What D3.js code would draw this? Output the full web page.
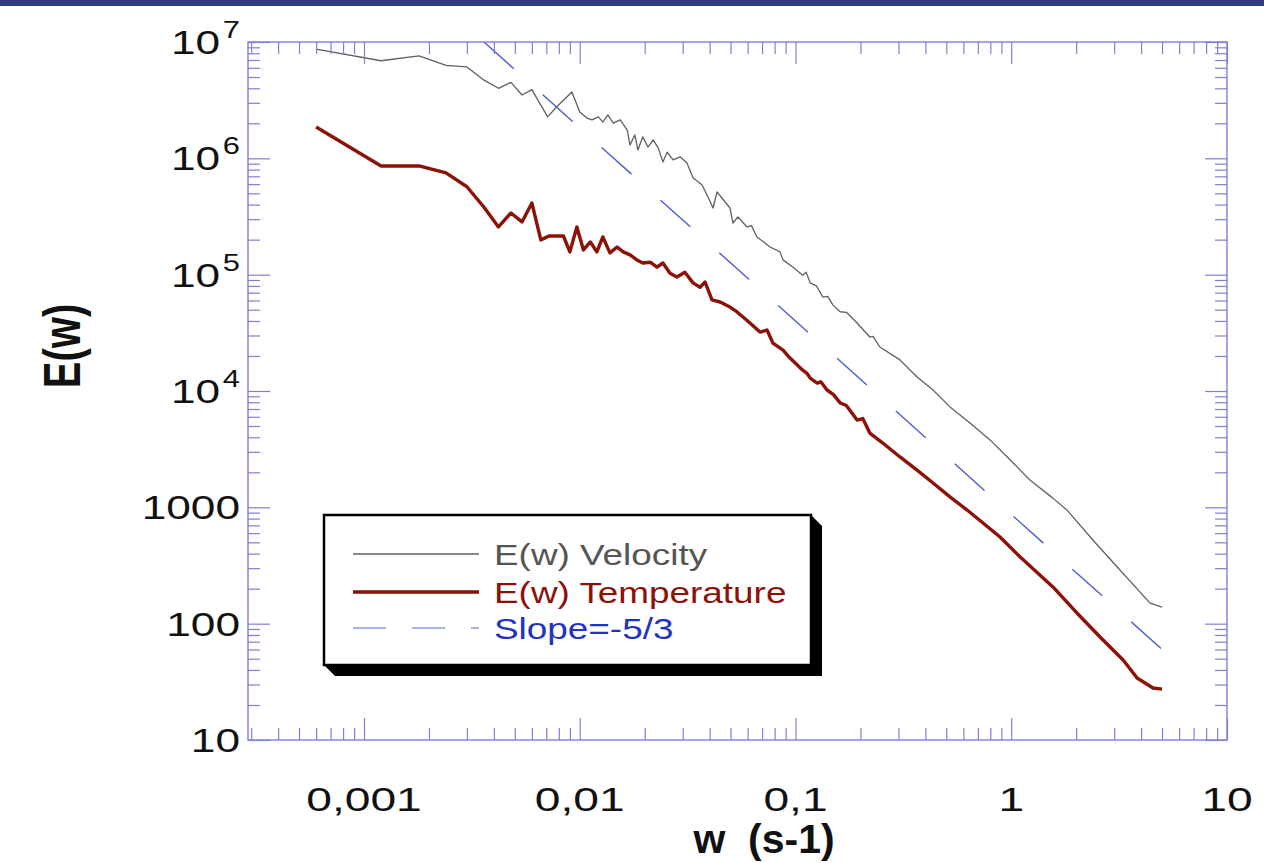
<!DOCTYPE html>
<html>
<head>
<meta charset="utf-8">
<script src="https://cdn.jsdelivr.net/npm/d3@7"></script>
<style>
  body { margin: 0; background: #fff; }
  svg { display: block; font-family: "Liberation Sans", Arial, Helvetica, sans-serif; }
</style>
</head>
<body>
<div id="chart"></div>
<script>
// spectra: frequency w (s-1) and energy E(w)
const velW = [0.0006, 0.0012, 0.0018, 0.0024, 0.0030, 0.0036, 0.0042, 0.0048, 0.0054, 0.0060,
  0.0071, 0.0078, 0.0092, 0.0100, 0.0108, 0.0114, 0.0122, 0.0128, 0.0135, 0.0143,
  0.0154, 0.0166, 0.0171, 0.0180, 0.0186, 0.0196, 0.0207, 0.0219, 0.0231, 0.0243,
  0.0254, 0.0271, 0.0292, 0.0314, 0.0335, 0.0369, 0.0393, 0.0415, 0.0433, 0.0456,
  0.0497, 0.0513, 0.0541, 0.0596, 0.0625, 0.0663, 0.0700, 0.0762, 0.0848, 0.0875,
  0.0974, 0.108, 0.112, 0.117, 0.125, 0.134, 0.141, 0.149, 0.161, 0.172,
  0.193, 0.221, 0.229, 0.246, 0.305, 0.366, 0.434, 0.520, 0.644, 0.797,
  0.99, 1.22, 1.56, 1.81, 2.39, 3.19, 4.40, 5.0];
const velE = [8.7e6, 6.9e6, 7.6e6, 6.3e6, 6.1e6, 4.7e6, 4.0e6, 4.5e6, 3.5e6, 3.9e6,
  2.27e6, 2.76e6, 3.72e6, 2.50e6, 2.22e6, 2.14e6, 2.27e6, 2.05e6, 2.36e6, 2.01e6,
  2.14e6, 1.75e6, 1.30e6, 1.59e6, 1.18e6, 1.53e6, 1.25e6, 1.44e6, 1.23e6, 9.3e5,
  1.13e6, 9.7e5, 1.03e6, 9.1e5, 6.8e5, 5.9e5, 4.65e5, 3.74e5, 5.14e5, 4.56e5,
  3.74e5, 2.78e5, 3.13e5, 2.57e5, 2.64e5, 2.11e5, 1.96e5, 1.73e5, 1.57e5, 1.34e5,
  1.16e5, 9.9e4, 1.05e5, 8.5e4, 8.0e4, 6.4e4, 6.5e4, 5.5e4, 4.8e4, 4.75e4,
  3.84e4, 2.91e4, 2.95e4, 2.39e4, 1.85e4, 1.32e4, 1.02e4, 7.3e3, 5.3e3, 3.8e3,
  2.55e3, 1.72e3, 1.20e3, 950, 524, 289, 150, 139];

const tempW = [0.0006, 0.0012, 0.0018, 0.0024, 0.0030, 0.0036, 0.0042, 0.0048, 0.0054, 0.0060,
  0.0066, 0.0072, 0.0078, 0.0084, 0.0090, 0.0097, 0.0104, 0.0112, 0.0120, 0.0128,
  0.0138, 0.0149, 0.0159, 0.0171, 0.0184, 0.0196, 0.0212, 0.0228, 0.0243, 0.0262,
  0.0282, 0.0307, 0.0335, 0.0361, 0.0381, 0.0410, 0.0447, 0.0497, 0.0536, 0.0571,
  0.0615, 0.0685, 0.0738, 0.0786, 0.0875, 0.0943, 0.102, 0.108, 0.113, 0.117,
  0.126, 0.131, 0.140, 0.150, 0.161, 0.172, 0.193, 0.205, 0.221, 0.254,
  0.305, 0.366, 0.434, 0.520, 0.624, 0.740, 0.887, 1.10, 1.18, 1.56,
  2.02, 2.58, 3.30, 3.83, 4.54, 5.0];
const tempE = [1.86e6, 8.6e5, 8.6e5, 7.5e5, 5.7e5, 3.8e5, 2.57e5, 3.39e5, 2.84e5, 4.13e5,
  1.99e5, 2.15e5, 2.15e5, 2.15e5, 1.57e5, 2.57e5, 1.63e5, 1.91e5, 1.57e5, 2.11e5,
  1.54e5, 1.73e5, 1.57e5, 1.48e5, 1.34e5, 1.26e5, 1.28e5, 1.16e5, 1.26e5, 1.03e5,
  9.55e4, 1.05e5, 8.5e4, 7.8e4, 8.65e4, 6.06e4, 5.82e4, 5.27e4, 4.78e4, 4.33e4,
  3.84e4, 3.21e4, 3.34e4, 2.58e4, 2.25e4, 1.92e4, 1.67e4, 1.51e4, 1.42e4, 1.29e4,
  1.17e4, 1.2e4, 1.02e4, 9.3e3, 7.9e3, 7.5e3, 5.63e3, 5.8e3, 4.35e3, 3.57e3,
  2.71e3, 2.09e3, 1.62e3, 1.23e3, 948, 733, 556, 374, 332, 207,
  123, 76.8, 48.7, 34.1, 28.0, 27.4];

// reference line of slope -5/3 (its two end points)
const slopeW = [0.0036, 5.0];
const slopeE = [1.0e7, 60];

const xTickValues = [0.001, 0.01, 0.1, 1, 10];
const xTickLabels = ['0,001', '0,01', '0,1', '1', '10'];
const yTickValues = [1e7, 1e6, 1e5, 1e4, 1000, 100, 10];
const yTickLabels = [['10', '7'], ['10', '6'], ['10', '5'], ['10', '4'], ['1000', ''], ['100', ''], ['10', '']];
const legendLabels = ['E(w) Velocity', 'E(w) Temperature', 'Slope=-5/3'];

const width = 1264;
const height = 863;
const plot = { left: 248, right: 1227, top: 42, bottom: 740 };

const axisColor = '#7f7fd4';
const velColor = '#606060';
const tempColor = '#8c1208';
const slopeColor = '#4d5cd6';

const svg = d3.select('#chart')
  .append('svg')
  .attr('width', width)
  .attr('height', height);

svg.append('rect')
  .attr('x', 0).attr('y', 0)
  .attr('width', width).attr('height', 6)
  .attr('fill', '#323a7e');

const xScale = d3.scaleLog().domain([0.00029, 10]).range([plot.left, plot.right]);
const yScale = d3.scaleLog().domain([10, 1e7]).range([plot.bottom, plot.top]);

// text in the original is drawn wide, so stretch it horizontally
function stretchedText(x, y, sx, rotate) {
  return svg.append('g')
    .attr('transform', `translate(${x},${y}) scale(${sx},1)` + (rotate ? ` rotate(${rotate})` : ''))
    .append('text');
}

function drawTicks() {
  const isMajor = (v) => Math.abs(Math.log10(v) - Math.round(Math.log10(v))) < 1e-6;
  const xMinor = xScale.ticks().filter((v) => !isMajor(v));
  const xMajor = xScale.ticks().filter(isMajor);
  const yMinor = yScale.ticks().filter((v) => !isMajor(v));
  const yMajor = yScale.ticks().filter(isMajor);

  const sets = [
    [d3.axisBottom(xScale), `translate(0,${plot.bottom})`, xMinor, xMajor],
    [d3.axisTop(xScale), `translate(0,${plot.top})`, xMinor, xMajor],
    [d3.axisLeft(yScale), `translate(${plot.left},0)`, yMinor, yMajor],
    [d3.axisRight(yScale), `translate(${plot.right},0)`, yMinor, yMajor],
  ];

  sets.forEach(([axis, tr, minor, major]) => {
    [[minor, -12], [major, -22]].forEach(([vals, size]) => {
      const g = svg.append('g')
        .attr('transform', tr)
        .call(axis.tickValues(vals).tickSize(size).tickFormat(''));
      g.select('.domain').remove();
      g.selectAll('line').attr('stroke', axisColor).attr('stroke-width', 1.2);
    });
  });

  svg.append('rect')
    .attr('x', plot.left).attr('y', plot.top)
    .attr('width', plot.right - plot.left)
    .attr('height', plot.bottom - plot.top)
    .attr('fill', 'none')
    .attr('stroke', axisColor)
    .attr('stroke-width', 1.4);
}

function drawLabels() {
  xTickValues.forEach((v, i) => {
    stretchedText(xScale(v), 811, 1.4)
      .attr('text-anchor', 'middle')
      .style('font-size', '33px')
      .attr('fill', '#111')
      .text(xTickLabels[i]);
  });

  yTickValues.forEach((v, i) => {
    const [base, exp] = yTickLabels[i];
    const t = stretchedText(240, yScale(v), 1.34)
      .attr('text-anchor', 'end')
      .attr('dy', '0.36em')
      .style('font-size', '33px')
      .attr('fill', '#111');
    t.append('tspan').text(base);
    if (exp) {
      t.append('tspan').attr('dx', 2).attr('dy', -16).style('font-size', '23px').text(exp);
    }
  });

  stretchedText(80, 346, 1.3, -90)
    .attr('text-anchor', 'middle')
    .style('font-size', '40px')
    .style('font-weight', 'bold')
    .attr('fill', '#111')
    .text('E(w)');

  stretchedText(764, 853, 1.0)
    .attr('text-anchor', 'middle')
    .style('font-size', '41px')
    .style('font-weight', 'bold')
    .style('white-space', 'pre')
    .attr('fill', '#111')
    .text('w  (s-1)');
}

function drawSeries() {
  const line = d3.line()
    .x((d) => xScale(d[0]))
    .y((d) => yScale(d[1]));

  svg.append('path')
    .datum(d3.zip(slopeW, slopeE))
    .attr('d', line)
    .attr('fill', 'none')
    .attr('stroke', slopeColor)
    .attr('stroke-width', 1.4)
    .attr('stroke-dasharray', '40,39');

  svg.append('path')
    .datum(d3.zip(velW, velE))
    .attr('d', line)
    .attr('fill', 'none')
    .attr('stroke', velColor)
    .attr('stroke-width', 1.3)
    .attr('stroke-linejoin', 'round');

  svg.append('path')
    .datum(d3.zip(tempW, tempE))
    .attr('d', line)
    .attr('fill', 'none')
    .attr('stroke', tempColor)
    .attr('stroke-width', 3.4)
    .attr('stroke-linejoin', 'round');
}

function drawLegend() {
  const box = { left: 324, top: 515, right: 811, bottom: 665 };
  const off = 11;

  svg.append('polygon')
    .attr('points', [
      [box.right, box.top], [box.right + off, box.top + off],
      [box.right + off, box.bottom + off], [box.left + off, box.bottom + off],
      [box.left, box.bottom],
    ].map((p) => p.join(',')).join(' '))
    .attr('fill', '#000');

  svg.append('rect')
    .attr('x', box.left).attr('y', box.top)
    .attr('width', box.right - box.left)
    .attr('height', box.bottom - box.top)
    .attr('fill', '#fff')
    .attr('stroke', '#000')
    .attr('stroke-width', 2.5);

  const rows = [
    { y: 554, color: velColor, textColor: '#555', width: 1.3, dash: null },
    { y: 592, color: tempColor, textColor: '#8c1208', width: 3.4, dash: null },
    { y: 628, color: '#8d97e0', textColor: '#1f33c4', width: 1.4, dash: '33,26' },
  ];

  rows.forEach((r, i) => {
    svg.append('line')
      .attr('x1', 353).attr('x2', 479)
      .attr('y1', r.y).attr('y2', r.y)
      .attr('stroke', r.color)
      .attr('stroke-width', r.width)
      .attr('stroke-dasharray', r.dash);

    stretchedText(494, r.y + 11, 1.23)
      .style('font-size', '30px')
      .attr('fill', r.textColor)
      .text(legendLabels[i]);
  });
}

drawSeries();
drawTicks();
drawLabels();
drawLegend();
</script>
</body>
</html>
